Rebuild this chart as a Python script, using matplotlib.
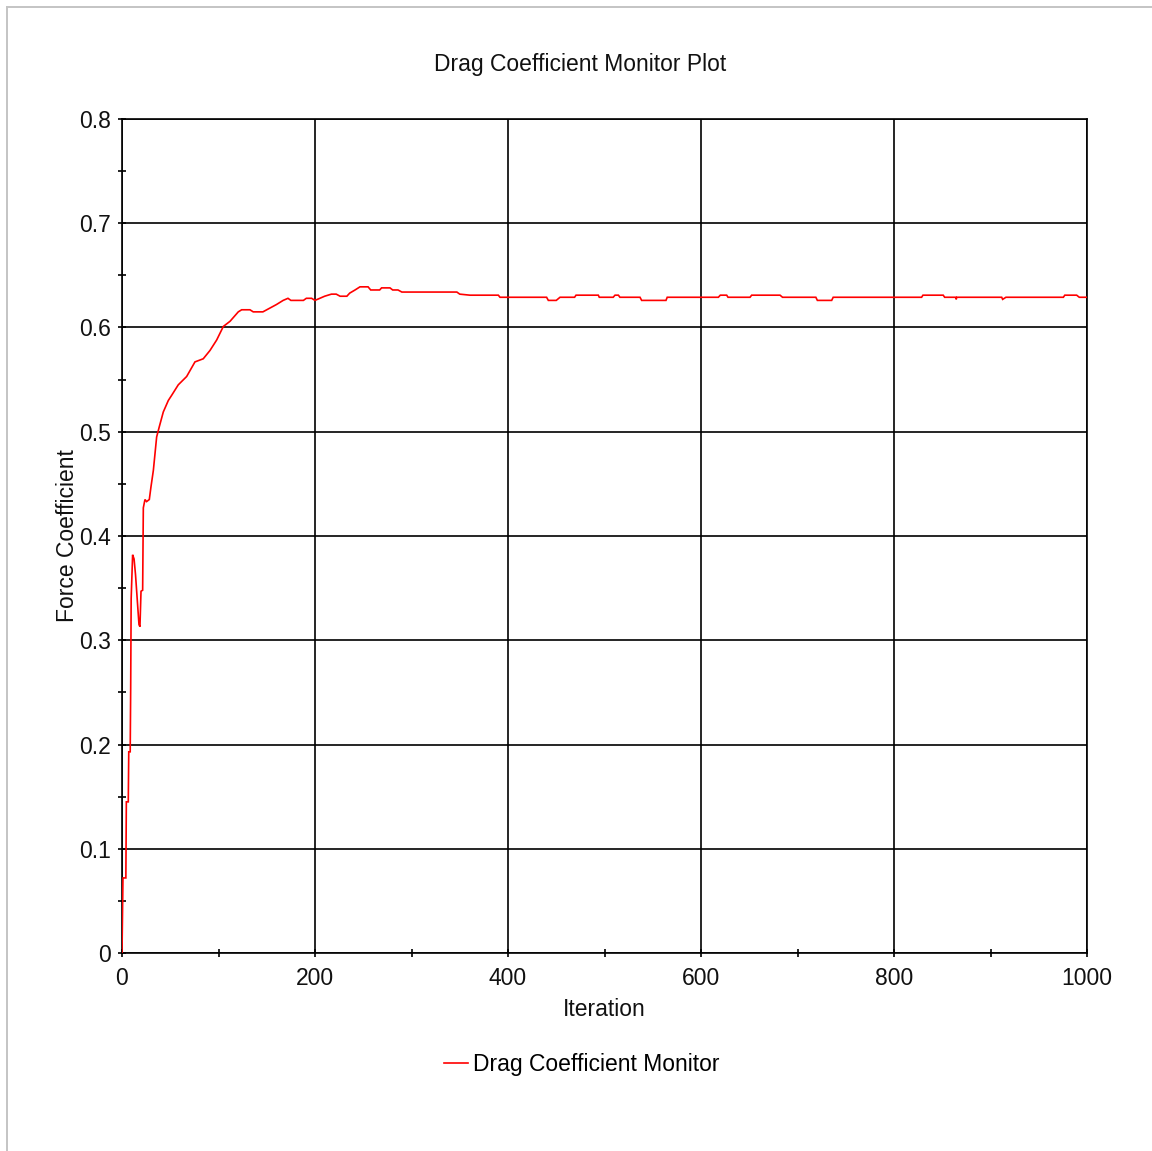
import matplotlib
matplotlib.use("Agg")
import matplotlib.pyplot as plt
from matplotlib.lines import Line2D
from matplotlib.ticker import MultipleLocator, FuncFormatter

# Drag coefficient history (iteration, coefficient)
iterations = [
    0, 1, 4, 4.5, 6.5, 7, 8.5, 9, 9.5, 11, 12.5, 14, 15.8, 17.6, 18.6, 19.7,
    21.4, 22.1, 23.8, 25.5, 28.3, 30, 32.5, 34.2, 35.9, 38.7, 42.8, 48, 51.5,
    58.3, 67, 75.6, 84.2, 91.2, 98.1, 105, 112, 120.5, 124, 132.6, 136, 146,
    160, 167, 172, 175, 188, 191, 196.5, 200, 210, 217, 222, 226, 233, 236,
    241.5, 246.6, 255, 257.7, 267, 269, 277.7, 280.5, 286, 290, 347, 350,
    360.6, 390, 391.7, 440, 441.8, 450, 453.9, 469, 470.5, 493.6, 494.6, 509,
    510.9, 514.4, 516, 536.8, 538.5, 563.7, 565, 618, 620, 626.6, 628, 650.8,
    652.5, 681.9, 684.5, 719, 720.6, 735.4, 737, 828.6, 830, 851, 852.5, 864,
    864.5, 865, 911.6, 912.6, 916, 975.5, 977, 989.3, 992, 1000,
]
drag_coefficient = [
    0.000, 0.072, 0.072, 0.145, 0.145, 0.193, 0.193, 0.254, 0.340, 0.382,
    0.378, 0.363, 0.339, 0.315, 0.313, 0.347, 0.348, 0.427, 0.435, 0.433,
    0.435, 0.447, 0.463, 0.479, 0.495, 0.505, 0.519, 0.530, 0.535, 0.545,
    0.553, 0.567, 0.570, 0.578, 0.588, 0.601, 0.606, 0.615, 0.617, 0.617,
    0.615, 0.615, 0.622, 0.626, 0.628, 0.626, 0.626, 0.628, 0.628, 0.626,
    0.630, 0.632, 0.632, 0.630, 0.630, 0.633, 0.636, 0.639, 0.639, 0.636,
    0.636, 0.638, 0.638, 0.636, 0.636, 0.634, 0.634, 0.632, 0.631, 0.631,
    0.629, 0.629, 0.626, 0.626, 0.629, 0.629, 0.631, 0.631, 0.629, 0.629,
    0.631, 0.631, 0.629, 0.629, 0.626, 0.626, 0.629, 0.629, 0.631, 0.631,
    0.629, 0.629, 0.631, 0.631, 0.629, 0.629, 0.626, 0.626, 0.629, 0.629,
    0.631, 0.631, 0.629, 0.629, 0.627, 0.629, 0.629, 0.627, 0.629, 0.629,
    0.631, 0.631, 0.629, 0.629,
]

title = "Drag Coefficient Monitor Plot"
x_label = "Iteration"
y_label = "Force Coefficient"
series_name = "Drag Coefficient Monitor"

FONT = "Liberation Sans"
FS = 16.5

W, H = 1152, 1151
fig = plt.figure(figsize=(W / 100, H / 100), dpi=100)
fig.patch.set_facecolor("white")

# Light gray outer frame (left and top edges)
fig.add_artist(Line2D([7 / W, 7 / W], [0, 1 - 7 / H], transform=fig.transFigure,
                      color="#c4c4c4", lw=1.4))
fig.add_artist(Line2D([7 / W, 1], [1 - 7 / H, 1 - 7 / H], transform=fig.transFigure,
                      color="#c4c4c4", lw=1.4))

left, right, top, bottom = 122, 1087, 119, 953
ax = fig.add_axes([left / W, 1 - bottom / H, (right - left) / W, (bottom - top) / H])

line, = ax.plot(iterations, drag_coefficient, color="#ff0000", lw=1.2,
                label=series_name, zorder=3, solid_joinstyle="miter")

ax.set_xlim(0, 1000)
ax.set_ylim(0, 0.8)
ax.xaxis.set_major_locator(MultipleLocator(200))
ax.xaxis.set_minor_locator(MultipleLocator(100))
ax.yaxis.set_major_locator(MultipleLocator(0.1))
ax.yaxis.set_minor_locator(MultipleLocator(0.05))


def fmt_y(v, pos):
    if abs(v) < 1e-9:
        return "0"
    return f"{v:.1f}"


ax.yaxis.set_major_formatter(FuncFormatter(fmt_y))
ax.xaxis.set_major_formatter(FuncFormatter(lambda v, p: f"{int(round(v))}"))

ax.grid(True, which="major", color="black", lw=1.2)
for s in ax.spines.values():
    s.set_color("black")
    s.set_linewidth(1.2)

ax.tick_params(which="both", direction="inout", length=6, width=1.2, color="black")
ax.tick_params(axis="y", which="major", pad=5)
ax.tick_params(axis="x", which="major", pad=7)
for lab in ax.get_xticklabels() + ax.get_yticklabels():
    lab.set_fontfamily(FONT)
    lab.set_fontsize(FS)
    lab.set_color("#111111")

ax.set_xlabel(x_label, fontfamily=FONT, fontsize=FS, labelpad=6, color="#111111")
ax.set_ylabel(y_label, fontfamily=FONT, fontsize=FS, labelpad=0, color="#111111")

fig.text(580 / W, 1 - 64 / H, title, ha="center", va="center",
         fontfamily=FONT, fontsize=FS, color="#111111")

fig.legend(handles=[line], loc="center", bbox_to_anchor=(582 / W, 1 - 1065 / H),
           frameon=False, prop={"family": FONT, "size": FS},
           handlelength=1.05, handletextpad=0.2, borderpad=0)

fig.savefig("out.png", dpi=100, facecolor="white")
